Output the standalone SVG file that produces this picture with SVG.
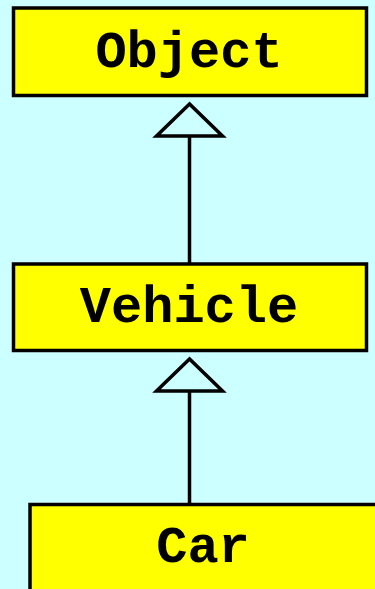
<svg xmlns="http://www.w3.org/2000/svg" width="375" height="589" viewBox="0 0 375 589">
<style>
.box{fill:#ffff00;stroke:#000;stroke-width:3.5}
.lbl{font-family:"Liberation Mono","Courier New",monospace;font-weight:bold;font-size:52px;fill:#000;text-anchor:middle}
.edge{fill:none;stroke:#000;stroke-width:3.5}
.head{fill:#ccffff;stroke:#000;stroke-width:3.5;stroke-linejoin:miter}
</style>
<rect width="375" height="589" fill="#ccffff"/>
<g id="connectors">
<line class="edge" x1="189.5" y1="136" x2="189.5" y2="264"/>
<polygon class="head" points="189.5,104 156.5,136 222.5,136"/>
<line class="edge" x1="189.5" y1="391" x2="189.5" y2="504.5"/>
<polygon class="head" points="189.5,359 156.5,391 222.5,391"/>
</g>
<g id="Object">
<rect class="box" x="13.5" y="8" width="353" height="87.5"/>
<text class="lbl" x="189" y="67">Object</text>
</g>
<g id="Vehicle">
<rect class="box" x="13.5" y="264" width="353" height="86.5"/>
<text class="lbl" x="189" y="322">Vehicle</text>
</g>
<g id="Car">
<rect class="box" x="30" y="504.5" width="350" height="100"/>
<text class="lbl" x="203" y="562">Car</text>
</g>
</svg>
